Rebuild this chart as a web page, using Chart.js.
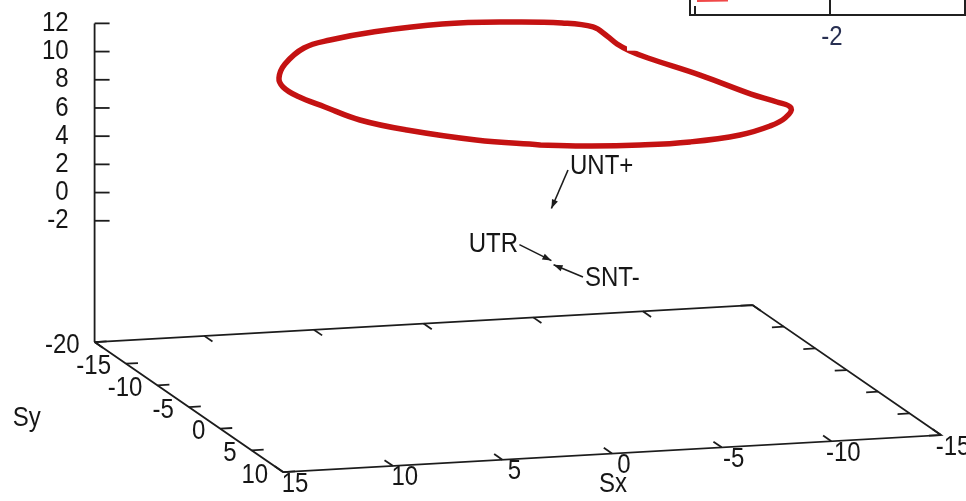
<!DOCTYPE html>
<html>
<head>
<meta charset="utf-8">
<script src="https://cdn.jsdelivr.net/npm/chart.js@4/dist/chart.umd.min.js"></script>
<style>
  html, body { margin: 0; padding: 0; background: #ffffff; }
  canvas { display: block; }
</style>
</head>
<body>
<canvas id="chart" width="966" height="501"></canvas>
<script>
// Limit cycle of the spin vector (Sx, Sy, Sz), starting on the near side
const loopSx = [1.57, 4.39, 7.17, 8.85, 9.90, 10.47, 10.46,
                10.03, 9.02, 7.41, 5.64, 3.08, -0.61, -3.93, -6.29, -7.64, -8.23, -8.64, -9.17, -9.88, -11.80, -13.34,
                -13.80, -13.32, -12.31, -11.00, -8.93, -5.98, -3.30, -0.79];
const loopSy = [4.00, 3.68, 2.39, 0.76, -1.14, -3.58, -5.86,
                -8.00, -10.57, -13.17, -15.19, -17.29, -19.18, -19.94, -19.93, -19.69, -19.52, -19.36, -19.15, -18.76, -17.17, -14.43,
                -11.92, -8.00, -5.43, -3.24, -0.81, 1.55, 2.94, 3.72];
const loopSz = [9.58, 10.08, 10.63, 10.99, 11.42, 11.50, 11.44,
                11.38, 11.49, 11.69, 11.48, 11.18, 10.84, 10.46, 10.19, 9.86, 9.22, 8.67, 8.19, 7.75, 6.86, 6.22,
                6.39, 7.21, 7.38, 7.60, 7.89, 8.38, 8.82, 9.21];

// Fixed points
const fixedNames = ['UNT+', 'UTR', 'SNT-'];
const fixedSx = [-0.1, -0.1, -0.2];
const fixedSy = [0.0, 0.0, 0.0];
const fixedSz = [3.7, 0.0, -0.3];

// Axis ranges (szRange[0] is the level of the base plane) and ticks
const sxRange = [-15, 15];
const syRange = [-20, 10];
const szRange = [-10.6, 12];
const sxTicks = [15, 10, 5, 0, -5, -10, -15];
const syTicks = [-20, -15, -10, -5, 0, 5, 10];
const szTicks = [-2, 0, 2, 4, 6, 8, 10, 12];
const insetTickLabels = ['-2'];

// Parallel projection of (Sx, Sy, Sz) onto the view plane
const view = { ox: 549.2, oy: 410.2, ex: [-21.93, 1.233], ey: [6.283, 4.333], ez: 14.1 };
function project(sx, sy, sz) {
  return {
    x: view.ox + view.ex[0] * sx + view.ey[0] * sy,
    y: view.oy + view.ex[1] * sx + view.ey[1] * sy - view.ez * (sz - szRange[0])
  };
}

const FONT = '24px "Liberation Sans", Arial, sans-serif';
const TEXT_STRETCH = 1.15;
const frameColor = '#1c1c1c';
const textColor = '#161616';
const base = szRange[0];

function drawText(ctx, s, x, y, align, color) {
  ctx.save();
  ctx.translate(x, y);
  ctx.scale(1, TEXT_STRETCH);
  ctx.font = FONT;
  ctx.fillStyle = color || textColor;
  ctx.textAlign = align;
  ctx.textBaseline = 'middle';
  ctx.fillText(s, 0, 0);
  ctx.restore();
}

const frameCorners = [
  [sxRange[1], syRange[0]], [sxRange[1], syRange[1]],
  [sxRange[0], syRange[1]], [sxRange[0], syRange[0]], [sxRange[1], syRange[0]]
];
const frameData = frameCorners.map(c => project(c[0], c[1], base));
const zAxisData = [project(sxRange[1], syRange[0], base), project(sxRange[1], syRange[0], szRange[1])];
const loopData = loopSx.map((v, i) => project(v, loopSy[i], loopSz[i]));
loopData.push(loopData[0]);

const axesPlugin = {
  id: 'axes3d',
  beforeDatasetsDraw(chart) {
    const ctx = chart.ctx;
    const toPx = p => ({ x: chart.scales.x.getPixelForValue(p.x), y: chart.scales.y.getPixelForValue(p.y) });
    const dir = (a, b) => { const dx = b.x - a.x, dy = b.y - a.y, l = Math.hypot(dx, dy); return { x: dx / l, y: dy / l }; };
    const o = toPx(project(0, 0, base));
    const uSx = dir(o, toPx(project(1, 0, base)));
    const uSy = dir(o, toPx(project(0, 1, base)));
    const seg = (p, ux, uy, len) => {
      ctx.beginPath(); ctx.moveTo(p.x, p.y); ctx.lineTo(p.x + ux * len, p.y + uy * len); ctx.stroke();
    };
    ctx.save();
    ctx.strokeStyle = frameColor;
    ctx.lineWidth = 1.8;

    // Sx ticks: front edge and mirrored on the back edge
    sxTicks.forEach(v => {
      const f = toPx(project(v, syRange[1], base));
      const b = toPx(project(v, syRange[0], base));
      seg(f, -uSy.x, -uSy.y, 10);
      seg(b, uSy.x, uSy.y, 10);
      drawText(ctx, String(v), f.x + 12, f.y + 12, 'center');
    });
    // Sy ticks: left edge and mirrored on the right edge
    syTicks.forEach(v => {
      const l = toPx(project(sxRange[1], v, base));
      const r = toPx(project(sxRange[0], v, base));
      seg(l, -uSx.x, -uSx.y, 12);
      seg(r, uSx.x, uSx.y, 12);
      drawText(ctx, String(v), l.x - 15, l.y + 3, 'right');
    });
    // Sz ticks on the vertical axis
    szTicks.forEach(v => {
      const p = toPx(project(sxRange[1], syRange[0], v));
      seg(p, 1, 0, 15);
      drawText(ctx, String(v), p.x - 26, p.y, 'right');
    });

    // axis titles
    const sxMid = toPx(project(0, syRange[1], base));
    drawText(ctx, 'Sx', sxMid.x + 1, sxMid.y + 31, 'center');
    const syMid = toPx(project(sxRange[1], (syRange[0] + syRange[1]) / 2, base));
    drawText(ctx, 'Sy', syMid.x - 162, syMid.y + 11, 'center');
    ctx.restore();
  },
  afterDatasetsDraw(chart) {
    const ctx = chart.ctx;
    const toPx = p => ({ x: chart.scales.x.getPixelForValue(p.x), y: chart.scales.y.getPixelForValue(p.y) });

    // fixed point annotations with arrows
    const notes = {
      'UNT+': { tail: [16.6, -38.4], text: [18.6, -42], align: 'left' },
      'UTR':  { tail: [-32.0, -16.0], text: [-33.4, -16.5], align: 'right' },
      'SNT-': { tail: [29.4, 12.3], text: [31.4, 13.2], align: 'left' }
    };
    ctx.save();
    ctx.strokeStyle = frameColor;
    ctx.fillStyle = frameColor;
    ctx.lineWidth = 1.6;
    fixedNames.forEach((name, i) => {
      const h = toPx(project(fixedSx[i], fixedSy[i], fixedSz[i]));
      const n = notes[name];
      const t = { x: h.x + n.tail[0], y: h.y + n.tail[1] };
      ctx.beginPath(); ctx.moveTo(t.x, t.y); ctx.lineTo(h.x, h.y); ctx.stroke();
      const a = Math.atan2(h.y - t.y, h.x - t.x);
      const L = 9, W = 3.2;
      ctx.beginPath();
      ctx.moveTo(h.x, h.y);
      ctx.lineTo(h.x - L * Math.cos(a) + W * Math.sin(a), h.y - L * Math.sin(a) - W * Math.cos(a));
      ctx.lineTo(h.x - L * Math.cos(a) - W * Math.sin(a), h.y - L * Math.sin(a) + W * Math.cos(a));
      ctx.closePath(); ctx.fill();
      drawText(ctx, name, h.x + n.text[0], h.y + n.text[1], n.align);
    });

    // corner panel of the neighbouring plot
    ctx.fillStyle = '#ffffff';
    ctx.fillRect(627, 0, 339, 50.7);
    ctx.strokeStyle = '#202020';
    ctx.lineWidth = 2;
    ctx.beginPath();
    ctx.moveTo(690, 0); ctx.lineTo(690, 15); ctx.lineTo(965, 15); ctx.lineTo(965, 0);
    ctx.moveTo(695, 6); ctx.lineTo(695, 15);
    ctx.moveTo(830, 0); ctx.lineTo(830, 15);
    ctx.stroke();
    ctx.strokeStyle = '#f04848';
    ctx.lineWidth = 2;
    ctx.beginPath(); ctx.moveTo(697, 1); ctx.lineTo(728, 0.5); ctx.stroke();
    drawText(ctx, insetTickLabels[0], 832, 37, 'center', '#283052');
    ctx.restore();
  }
};

new Chart(document.getElementById('chart'), {
  type: 'scatter',
  data: {
    datasets: [
      { data: frameData, showLine: true, borderColor: frameColor, borderWidth: 1.8, pointRadius: 0, tension: 0 },
      { data: zAxisData, showLine: true, borderColor: frameColor, borderWidth: 1.8, pointRadius: 0, tension: 0 },
      { data: loopData, showLine: true, borderColor: '#c41212', borderWidth: 5.5, pointRadius: 0, tension: 0.4,
        borderJoinStyle: 'round', borderCapStyle: 'round' },
      { data: loopData, showLine: true, borderColor: '#ec1c1c', borderWidth: 3.6, pointRadius: 0, tension: 0.4,
        borderJoinStyle: 'round', borderCapStyle: 'round' }
    ]
  },
  options: {
    responsive: false,
    animation: false,
    events: [],
    layout: { padding: 0 },
    plugins: { legend: { display: false }, tooltip: { enabled: false } },
    scales: {
      x: { type: 'linear', min: 0, max: 966, display: false },
      y: { type: 'linear', min: 0, max: 501, reverse: true, display: false }
    }
  },
  plugins: [axesPlugin]
});
</script>
</body>
</html>
